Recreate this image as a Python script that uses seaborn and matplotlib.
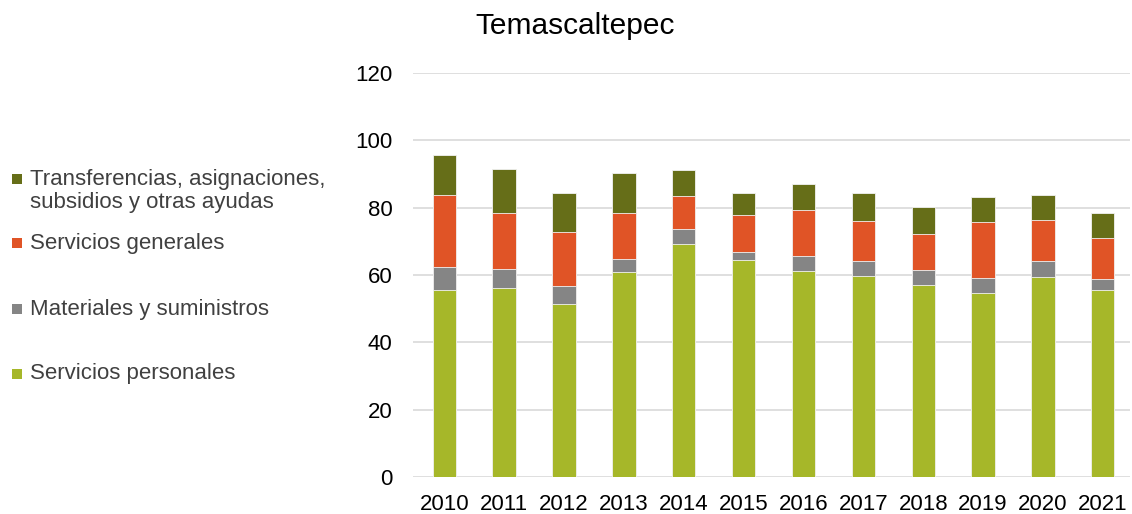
import matplotlib
matplotlib.use("Agg")
import matplotlib.pyplot as plt
import matplotlib.patches as mpatches
import seaborn as sns
import pandas as pd
import numpy as np

sns.set_theme(style="white")
plt.rcParams['font.family'] = ['Liberation Sans', 'DejaVu Sans']

# datos (millones de pesos)
anios = ['2010', '2011', '2012', '2013', '2014', '2015', '2016', '2017', '2018', '2019', '2020', '2021']
personales = [55.6, 56.2, 51.3, 61.0, 69.1, 64.5, 61.3, 59.6, 56.9, 54.6, 59.3, 55.4]
materiales = [6.9, 5.5, 5.3, 3.8, 4.6, 2.4, 4.3, 4.7, 4.7, 4.6, 5.0, 3.5]
generales = [21.3, 16.7, 16.3, 13.7, 9.8, 10.9, 13.7, 11.7, 10.6, 16.6, 12.1, 12.2]
transferencias = [11.8, 13.0, 11.6, 11.8, 7.8, 6.7, 7.7, 8.5, 7.9, 7.4, 7.4, 7.3]

series = ['Servicios personales', 'Materiales y suministros', 'Servicios generales',
          'Transferencias, asignaciones,\nsubsidios y otras ayudas']
colores = ['#A6B729', '#858585', '#E05426', '#666E18']

df = pd.DataFrame({'anio': anios,
                   series[0]: personales,
                   series[1]: materiales,
                   series[2]: generales,
                   series[3]: transferencias})
# acumulados para apilar
acum = df[series].cumsum(axis=1)
acum['anio'] = df['anio']

fig = plt.figure(figsize=(11.32, 5.14), dpi=100)
ax = fig.add_axes([0.365, 0.072, 0.633, 0.786])

# dibujar de arriba hacia abajo
for s, c in reversed(list(zip(series, colores))):
    sns.barplot(data=acum, x='anio', y=s, color=c, width=0.39, ax=ax,
                saturation=1, edgecolor='#F2F2F2', linewidth=0.6, zorder=3)

ax.set_ylim(0, 120)
ax.set_yticks(range(0, 121, 20))
ax.set_xlim(-0.52, 11.45)
ax.set_xlabel('')
ax.set_ylabel('')
ax.yaxis.grid(True, color='#D9D9D9', linewidth=1.2, zorder=0)
ax.set_axisbelow(True)
for sp in ax.spines.values():
    sp.set_visible(False)
ax.tick_params(axis='both', length=0, labelsize=16, colors='#000000')
ax.tick_params(axis='x', pad=12)
ax.tick_params(axis='y', pad=15)

fig.text(575 / 1132, 1 - 26 / 514, 'Temascaltepec', ha='center', va='center', fontsize=21.5, color='#000000')

# leyenda manual al estilo Excel
leyenda_y = [191, 243, 309, 374]
orden = [3, 2, 1, 0]
for yy, i in zip(leyenda_y, orden):
    yf = 1 - yy / 514
    if i == 3:
        sq_y = 1 - 179 / 514
    else:
        sq_y = yf
    fig.patches.append(mpatches.Rectangle((12 / 1132, sq_y - 5 / 514), 10 / 1132, 10 / 514,
                                          transform=fig.transFigure, facecolor=colores[i],
                                          edgecolor='none'))
    fig.text(30 / 1132, yf, series[i], ha='left', va='center', fontsize=16,
             color='#404040', linespacing=1.15)

fig.savefig('out.png', dpi=100)
